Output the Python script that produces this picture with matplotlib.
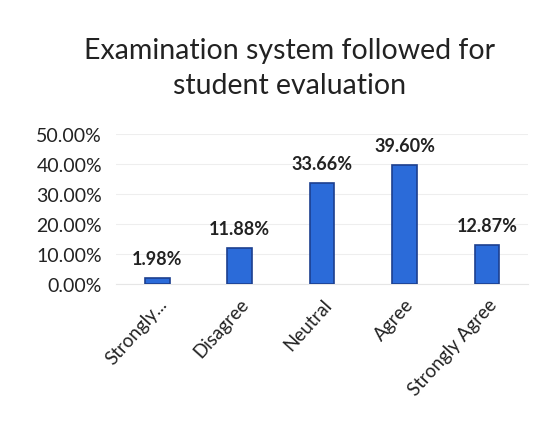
import matplotlib

matplotlib.use("Agg")
import matplotlib.pyplot as plt  # noqa: E402
from matplotlib.ticker import PercentFormatter  # noqa: E402

# Survey responses (share of respondents)
categories = ["Strongly...", "Disagree", "Neutral", "Agree", "Strongly Agree"]
shares = [0.0198, 0.1188, 0.3366, 0.3960, 0.1287]
value_labels = ["1.98%", "11.88%", "33.66%", "39.60%", "12.87%"]
y_ticks = [0.0, 0.1, 0.2, 0.3, 0.4, 0.5]

plt.rcParams["font.family"] = ["Lato", "DejaVu Sans"]

fig = plt.figure(figsize=(5.52, 4.35), dpi=100)
ax = fig.add_axes([0.21, 0.345, 0.747, 0.345])

x = range(len(categories))
ax.bar(x, shares, width=0.3, color="#2b6bd9", edgecolor="#1c3f8f", linewidth=1.2, zorder=3)

for xi, v, lab in zip(x, shares, value_labels):
    ax.annotate(lab, (xi, v), xytext=(0, 8), textcoords="offset points",
                ha="center", va="bottom", fontsize=13, fontweight="bold", color="#222222")

ax.set_ylim(0, 0.5)
ax.set_xlim(-0.5, len(categories) - 0.5)
ax.set_yticks(y_ticks)
ax.yaxis.set_major_formatter(PercentFormatter(1.0, decimals=2))
ax.set_xticks(list(x))
ax.set_xticklabels(categories, rotation=48, ha="right", rotation_mode="anchor")
ax.tick_params(axis="x", length=0, labelsize=13.5, colors="#222222", pad=8)
ax.tick_params(axis="y", length=0, labelsize=14, colors="#222222", pad=10)
ax.grid(axis="y", color="#eeeeee", linewidth=0.8, zorder=0)
for side in ["top", "right", "left"]:
    ax.spines[side].set_visible(False)
ax.spines["bottom"].set_color("#e6e6e6")

fig.text(0.525, 0.843, "Examination system followed for\nstudent evaluation",
         ha="center", va="center", fontsize=20.5, color="#222222", linespacing=1.45)

fig.savefig("out.png", dpi=100)
plt.close(fig)
